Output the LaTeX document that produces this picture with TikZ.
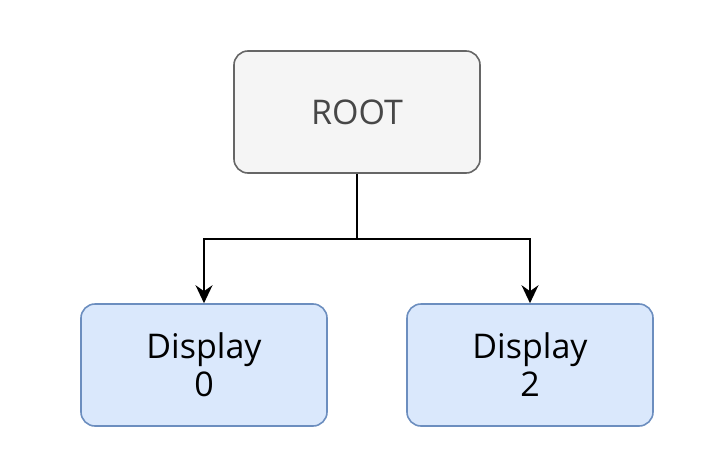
\documentclass[tikz,border=0pt]{standalone}
\usepackage{fontspec}
\setmainfont{Open Sans}
\usetikzlibrary{arrows.meta}
\tikzset{
    sketchbox/.style={draw, line width=1.6pt, rounded corners=14pt,
        minimum width=246pt, minimum height=122pt, align=center,
        font=\fontsize{34}{38}\selectfont},
    rootbox/.style={sketchbox, fill=rootfill, draw=rootline, text=rootline!70!black},
    dispbox/.style={sketchbox, fill=dispfill, draw=displine},
    link/.style={line width=1.8pt, -{Stealth[length=18pt, width=17pt, inset=6pt]}}
}
\definecolor{rootfill}{HTML}{F5F5F5}
\definecolor{rootline}{HTML}{666666}
\definecolor{dispfill}{HTML}{DAE8FC}
\definecolor{displine}{HTML}{6C8EBF}
\begin{document}
\begin{tikzpicture}[x=1pt, y=-1pt]
    \useasboundingbox (0,0) rectangle (726,458);
    % Tree nodes
    \node[rootbox] (root) at (357,112) {ROOT};
    \node[dispbox] (disp0) at (204,365) {Display\\0};
    \node[dispbox] (disp2) at (530,365) {Display\\2};
    % Connectors
    \coordinate (fork) at (357,239);
    \draw[link] (root.south) -- (fork) -| (disp0.north);
    \draw[link] (fork) -| (disp2.north);
\end{tikzpicture}
\end{document}
